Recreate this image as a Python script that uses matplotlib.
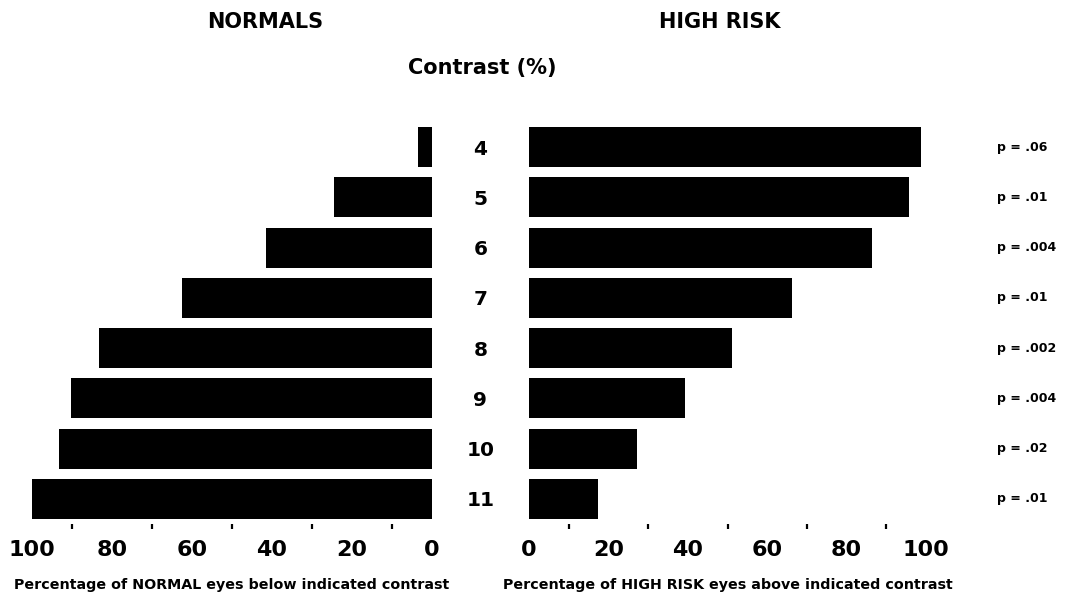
import matplotlib
matplotlib.use("Agg")
import matplotlib.pyplot as plt
import matplotlib.transforms as mtransforms

# dados
contrastes = ["4", "5", "6", "7", "8", "9", "10", "11"]
normais = [3.5, 24.4, 41.5, 62.5, 83.3, 90.3, 93.2, 100]
alto_risco = [98.7, 95.6, 86.5, 66.3, 51.2, 39.3, 27.1, 17.3]
valores_p = ["p = .06", "p = .01", "p = .004", "p = .01",
             "p = .002", "p = .004", "p = .02", "p = .01"]

marcas_texto = [0, 20, 40, 60, 80, 100]
marcas_menores = [10, 30, 50, 70, 90]

plt.rcParams["font.family"] = ["DejaVu Sans"]
plt.rcParams["font.weight"] = "bold"

W, H = 1068, 596
fig = plt.figure(figsize=(W / 100, H / 100), dpi=100)

base = (H - 524) / H
altura = 402 / H
ax_n = fig.add_axes([32 / W, base, 399.5 / W, altura])
ax_r = fig.add_axes([529 / W, base, 397 / W, altura])

pos = list(range(len(contrastes)))

ax_n.barh(pos, normais, height=0.8, color="black")
ax_r.barh(pos, alto_risco, height=0.8, color="black")

ax_n.set_xlim(100, 0)
ax_r.set_xlim(0, 100)

for ax in (ax_n, ax_r):
    ax.set_ylim(7.5, -0.5)
    for s in ax.spines.values():
        s.set_visible(False)
    ax.set_xticks(marcas_texto)
    ax.set_xticklabels([str(m) for m in marcas_texto], fontsize=16, fontweight="bold")
    ax.set_xticks(marcas_menores, minor=True)
    ax.tick_params(axis="x", which="major", length=0, pad=11.5)
    ax.tick_params(axis="x", which="minor", length=3.5, width=1.6, direction="out")

ax_n.set_yticks([])
ax_r.set_yticks(pos)
ax_r.set_yticklabels(contrastes, fontsize=14.5, fontweight="bold")
ax_r.tick_params(axis="y", length=0, pad=35)
for lbl in ax_r.get_yticklabels():
    lbl.set_horizontalalignment("center")

# valores de p a direita
trans = mtransforms.blended_transform_factory(ax_r.transAxes, ax_r.transData)
for i, p in enumerate(valores_p):
    ax_r.text(1.179, i, p, transform=trans, ha="left", va="center",
              fontsize=9, fontweight="bold")

ax_n.set_xlabel("Percentage of NORMAL eyes below indicated contrast",
                fontsize=10.3, fontweight="bold", labelpad=13)
ax_r.set_xlabel("Percentage of HIGH RISK eyes above indicated contrast",
                fontsize=10.3, fontweight="bold", labelpad=13)

fig.text(265 / W, 1 - 22 / H, "NORMALS", ha="center", va="center",
         fontsize=15, fontweight="bold")
fig.text(720 / W, 1 - 22 / H, "HIGH RISK", ha="center", va="center",
         fontsize=15, fontweight="bold")
fig.text(482 / W, 1 - 68 / H, "Contrast (%)", ha="center", va="center",
         fontsize=15, fontweight="bold")

fig.savefig("out.png", dpi=100)
